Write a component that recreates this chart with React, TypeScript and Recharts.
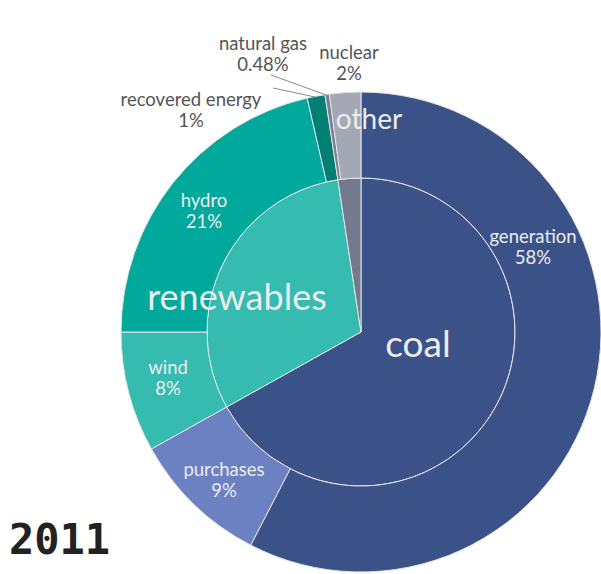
import { PieChart, Pie, Cell } from 'recharts';

// outer ring: sources
const sourceNames = ['generation', 'purchases', 'wind', 'hydro', 'recovered energy', 'natural gas', 'nuclear'];
const sourceValues = [57.6, 9.3, 8.1, 21.4, 1.2, 0.3, 2.1];
const sourceLabels = ['58%', '9%', '8%', '21%', '1%', '0.48%', '2%'];
const sourceColors = ['#3b5288', '#6b81c2', '#36bbb0', '#00a99c', '#007f72', '#7c8194', '#a4a8b4'];

// inner pie: groups
const groupNames = ['coal', 'renewables', 'other'];
const groupValues = [66.9, 30.7, 2.4];
const groupColors = ['#3b5288', '#36bbb0', '#737a8d'];

const YEAR = '2011';

const outerData = sourceNames.map((name, i) => ({ name, value: sourceValues[i], pct: sourceLabels[i] }));
const innerData = groupNames.map((name, i) => ({ name, value: groupValues[i] }));

// label placement relative to the pie centre
const OUTER_LABELS: Record<string, { dx: number; dy: number; outside?: boolean; lx?: number; ly?: number }> = {
  generation: { dx: 172, dy: -96 },
  purchases: { dx: -137, dy: 137 },
  wind: { dx: -193, dy: 35 },
  hydro: { dx: -157, dy: -132 },
  'recovered energy': { dx: -170, dy: -233, outside: true, lx: -88, ly: -244 },
  'natural gas': { dx: -98, dy: -289, outside: true, lx: -90, ly: -257 },
  nuclear: { dx: -12, dy: -280, outside: true },
};

const INNER_LABELS: Record<string, { dx: number; dy: number; size: number }> = {
  coal: { dx: 57, dy: 10, size: 37 },
  renewables: { dx: -124, dy: -36, size: 36 },
  other: { dx: 8, dy: -214, size: 28 },
};

const FONT = 'Lato, "Open Sans", sans-serif';
const RADIAN = Math.PI / 180;

const renderOuterLabel = (props: any) => {
  const { cx, cy, midAngle, outerRadius, name, payload } = props;
  const pos = OUTER_LABELS[name];
  if (!pos) return null;
  const x = cx + pos.dx;
  const y = cy + pos.dy;
  const fill = pos.outside ? '#555555' : '#ececec';
  let line = null;
  if (pos.outside && pos.lx !== undefined && pos.ly !== undefined) {
    const ex = cx + (outerRadius - 1) * Math.cos(-midAngle * RADIAN);
    const ey = cy + (outerRadius - 1) * Math.sin(-midAngle * RADIAN);
    line = <line x1={cx + pos.lx} y1={cy + pos.ly} x2={ex} y2={ey} stroke="#888" strokeWidth={1} />;
  }
  return (
    <g>
      {line}
      <text x={x} y={y} textAnchor="middle" dominantBaseline="central" fill={fill} fontSize={18.5} fontFamily={FONT}>
        {name}
      </text>
      <text x={x} y={y + 21} textAnchor="middle" dominantBaseline="central" fill={fill} fontSize={18.5} fontFamily={FONT}>
        {payload?.pct ?? props.pct}
      </text>
    </g>
  );
};

const renderInnerLabel = (props: any) => {
  const { cx, cy, name } = props;
  const pos = INNER_LABELS[name];
  if (!pos) return null;
  return (
    <text
      x={cx + pos.dx}
      y={cy + pos.dy}
      textAnchor="middle"
      dominantBaseline="central"
      fill="#ececec"
      fontSize={pos.size}
      fontFamily={FONT}
    >
      {name}
    </text>
  );
};

export default function App() {
  return (
    <div style={{ position: 'absolute', left: 0, top: 0, width: 601, height: 574 }}>
      <PieChart width={601} height={574} margin={{ top: 0, right: 0, bottom: 0, left: 0 }}>
        <Pie
          data={innerData}
          dataKey="value"
          cx={361}
          cy={332}
          innerRadius={0}
          outerRadius={154}
          startAngle={90}
          endAngle={-270}
          stroke="#e4e4e4"
          strokeWidth={1}
          isAnimationActive={false}
          label={renderInnerLabel}
          labelLine={false}
        >
          {innerData.map((d, i) => (
            <Cell key={d.name} fill={groupColors[i]} />
          ))}
        </Pie>
        <Pie
          data={outerData}
          dataKey="value"
          cx={361}
          cy={332}
          innerRadius={154}
          outerRadius={240}
          startAngle={90}
          endAngle={-270}
          stroke="#e4e4e4"
          strokeWidth={1}
          isAnimationActive={false}
          label={renderOuterLabel}
          labelLine={false}
        >
          {outerData.map((d, i) => (
            <Cell key={d.name} fill={sourceColors[i]} />
          ))}
        </Pie>
      </PieChart>
      <div
        style={{
          position: 'absolute',
          left: 9,
          top: 510,
          fontFamily: '"DejaVu Sans Mono", monospace',
          fontWeight: 'bold',
          fontSize: 42,
          color: '#222',
          lineHeight: '60px',
        }}
      >
        {YEAR}
      </div>
    </div>
  );
}
